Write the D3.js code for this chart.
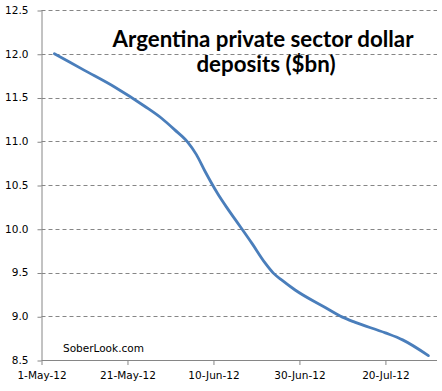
<!DOCTYPE html>
<html><head><meta charset="utf-8">
<script src="https://cdn.jsdelivr.net/npm/d3@7"></script>
<style>html,body{margin:0;padding:0;background:#fff}svg{display:block}</style>
</head><body>
<svg id="c" width="442" height="391"></svg>
<script>
const dates = ["2012-05-04","2012-05-11","2012-05-18","2012-05-25","2012-05-29","2012-06-01","2012-06-04","2012-06-06","2012-06-08","2012-06-11","2012-06-13","2012-06-15","2012-06-19","2012-06-22","2012-06-24","2012-06-26","2012-06-29","2012-07-06","2012-07-10","2012-07-13","2012-07-20","2012-07-24","2012-07-30"];
const deposits = [12.00,11.81,11.62,11.40,11.26,11.13,10.99,10.85,10.66,10.40,10.25,10.11,9.83,9.61,9.49,9.41,9.30,9.10,8.99,8.93,8.81,8.73,8.55];
const yTicks = [8.5,9.0,9.5,10.0,10.5,11.0,11.5,12.0,12.5];
const xTickLabels = ["2012-05-01","2012-05-21","2012-06-10","2012-06-30","2012-07-20"];
const titleLines = ["Argentina private sector dollar","deposits ($bn)"];
const sourceText = "SoberLook.com";

const parse = d3.utcParse("%Y-%m-%d");
const data = dates.map((d,i)=>({date:parse(d), v:deposits[i]}));
const svg = d3.select("#c");
const L=41.5, R=437, T=10, B=360;
const x = d3.scaleUtc().domain([parse("2012-05-01"), parse("2012-08-01")]).range([L,R]);
const y = d3.scaleLinear().domain([8.5,12.5]).range([B,T]);
const axisColor = "#868686";
const font = "DejaVu Sans, Verdana, sans-serif";

// gridlines
svg.append("g").selectAll("line").data(yTicks.filter(t=>t>8.5)).join("line")
  .attr("x1",L).attr("x2",R).attr("y1",d=>Math.round(y(d))+0.5).attr("y2",d=>Math.round(y(d))+0.5)
  .attr("stroke",axisColor).attr("stroke-width",1).attr("stroke-dasharray","4,3");

// y axis
const ya = svg.append("g").attr("transform",`translate(${L},0)`)
  .call(d3.axisLeft(y).tickValues(yTicks).tickFormat(d3.format(".1f")).tickSize(4).tickPadding(9));
ya.select(".domain").attr("stroke",axisColor).attr("d",`M0.5,${T}V${B}`);
ya.selectAll(".tick line").attr("stroke",axisColor).attr("transform","translate(0,0.5)");
ya.selectAll(".tick text").attr("font-family",font).attr("font-size","10.5px").attr("fill","#000");

// x axis
const xa = svg.append("g").attr("transform",`translate(0,${B})`)
  .call(d3.axisBottom(x).tickValues(xTickLabels.map(parse)).tickFormat(d3.utcFormat("%-d-%b-%y")).tickSize(5).tickPadding(7));
xa.select(".domain").attr("stroke",axisColor).attr("d",`M${L},0.5H${R}`);
xa.selectAll(".tick line").attr("stroke",axisColor);
xa.selectAll(".tick text").attr("font-family",font).attr("font-size","10.5px").attr("fill","#000");

// line
const line = d3.line().x(d=>x(d.date)).y(d=>y(d.v)).curve(d3.curveMonotoneX);
svg.append("path").datum(data).attr("d",line).attr("fill","none")
  .attr("stroke","#4a7ebb").attr("stroke-width",2.8).attr("stroke-linecap","round").attr("stroke-linejoin","round");

// title
const tt = svg.append("text").attr("font-family","Lato, 'Open Sans', sans-serif").attr("font-weight","bold")
  .attr("font-size","22.3px").attr("fill","#000").attr("text-anchor","middle");
tt.append("tspan").attr("x",263).attr("y",47).text(titleLines[0]);
tt.append("tspan").attr("x",266).attr("y",72).text(titleLines[1]);

// source
svg.append("text").attr("x",63).attr("y",352).attr("font-family",font).attr("font-size","10.5px")
  .attr("fill","#000").text(sourceText);
</script>
</body></html>
